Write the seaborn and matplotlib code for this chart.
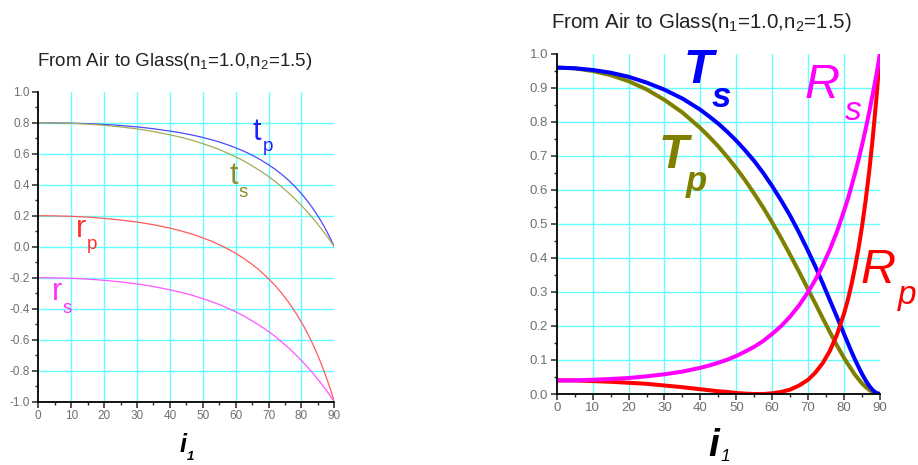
import numpy as np
import pandas as pd
import matplotlib
matplotlib.use("Agg")
import matplotlib.pyplot as plt
import seaborn as sns
from matplotlib.ticker import MultipleLocator, FormatStrFormatter

# angle of incidence (deg) and values
angles = [0, 5, 10, 15, 20, 25, 30, 35, 40, 42.5, 45, 47.5, 50, 52.5, 55, 57.5,
          60, 62.5, 65, 67.5, 70, 72, 74, 76, 78, 80, 81, 82, 83, 84, 85, 86,
          87, 88, 89, 90]

# left panel: amplitude coefficients
r_s = [-0.200, -0.201, -0.204, -0.209, -0.217, -0.227, -0.240, -0.257, -0.278,
       -0.290, -0.303, -0.318, -0.335, -0.353, -0.373, -0.396, -0.420, -0.447,
       -0.478, -0.511, -0.547, -0.579, -0.614, -0.651, -0.691, -0.734, -0.757,
       -0.780, -0.804, -0.830, -0.856, -0.883, -0.911, -0.939, -0.969, -1.000]
r_p = [0.200, 0.199, 0.196, 0.191, 0.183, 0.172, 0.159, 0.142, 0.120,
       0.107, 0.092, 0.076, 0.057, 0.037, 0.013, -0.013, -0.042, -0.076,
       -0.114, -0.157, -0.206, -0.250, -0.300, -0.355, -0.417, -0.487, -0.525,
       -0.565, -0.608, -0.654, -0.702, -0.754, -0.810, -0.869, -0.932, -1.000]
t_s = [0.800, 0.799, 0.796, 0.791, 0.783, 0.773, 0.760, 0.743, 0.722,
       0.710, 0.697, 0.682, 0.665, 0.647, 0.627, 0.604, 0.580, 0.553,
       0.522, 0.489, 0.453, 0.421, 0.386, 0.349, 0.309, 0.266, 0.243,
       0.220, 0.196, 0.170, 0.144, 0.117, 0.089, 0.061, 0.031, 0.000]
t_p = [0.800, 0.799, 0.797, 0.794, 0.789, 0.782, 0.773, 0.761, 0.746,
       0.738, 0.728, 0.717, 0.705, 0.691, 0.676, 0.658, 0.638, 0.616,
       0.591, 0.562, 0.529, 0.500, 0.467, 0.430, 0.389, 0.342, 0.317,
       0.290, 0.261, 0.231, 0.198, 0.164, 0.127, 0.087, 0.045, 0.000]

# right panel: energy coefficients
R_s = [0.040, 0.040, 0.042, 0.044, 0.047, 0.052, 0.058, 0.066, 0.077,
       0.084, 0.092, 0.101, 0.112, 0.125, 0.139, 0.156, 0.177, 0.200,
       0.228, 0.261, 0.300, 0.336, 0.377, 0.424, 0.477, 0.539, 0.572,
       0.609, 0.647, 0.688, 0.732, 0.779, 0.829, 0.883, 0.939, 1.000]
R_p = [0.040, 0.040, 0.038, 0.036, 0.033, 0.030, 0.025, 0.020, 0.014,
       0.011, 0.008, 0.006, 0.003, 0.001, 0.000, 0.000, 0.002, 0.006,
       0.013, 0.025, 0.042, 0.063, 0.090, 0.126, 0.174, 0.237, 0.275,
       0.319, 0.370, 0.427, 0.493, 0.569, 0.655, 0.755, 0.869, 1.000]
T_s = [0.960, 0.958, 0.953, 0.945, 0.933, 0.916, 0.895, 0.869, 0.836,
       0.816, 0.795, 0.771, 0.745, 0.716, 0.685, 0.650, 0.611, 0.569,
       0.524, 0.474, 0.420, 0.375, 0.327, 0.277, 0.227, 0.176, 0.151,
       0.126, 0.102, 0.080, 0.059, 0.040, 0.024, 0.011, 0.003, 0.000]
T_p = [0.960, 0.958, 0.950, 0.938, 0.920, 0.896, 0.865, 0.828, 0.782,
       0.756, 0.728, 0.697, 0.664, 0.628, 0.589, 0.548, 0.504, 0.458,
       0.409, 0.359, 0.307, 0.266, 0.224, 0.183, 0.143, 0.106, 0.089,
       0.073, 0.057, 0.044, 0.031, 0.021, 0.012, 0.005, 0.001, 0.000]

title = "From Air to Glass(n$_1$=1.0,n$_2$=1.5)"

sns.set_style("ticks")
plt.rcParams["font.family"] = ["Liberation Sans", "DejaVu Sans"]
plt.rcParams["mathtext.default"] = "regular"

W, H = 918, 465
fig = plt.figure(figsize=(W / 100, H / 100), dpi=100)
fig.patch.set_facecolor("white")

GRID = "#66FFFF"
TICK_GRAY = "#707070"


def px(x, y):
    return x / W, 1 - y / H


def style_axes(ax, ymin, ymax, ymaj, ymin_step, tick_size, y_grid):
    ax.set_xlim(0, 90)
    ax.set_ylim(ymin, ymax)
    ax.xaxis.set_major_locator(MultipleLocator(10))
    ax.xaxis.set_minor_locator(MultipleLocator(5))
    ax.yaxis.set_major_locator(MultipleLocator(ymaj))
    ax.yaxis.set_minor_locator(MultipleLocator(ymin_step))
    ax.yaxis.set_major_formatter(FormatStrFormatter("%.1f"))
    ax.tick_params(which="major", direction="out", length=4, width=1.1,
                   labelsize=tick_size, labelcolor=TICK_GRAY, pad=2)
    ax.tick_params(which="minor", direction="out", length=2.5, width=1.0)
    for side in ["top", "right"]:
        ax.spines[side].set_visible(False)
    for side in ["left", "bottom"]:
        ax.spines[side].set_linewidth(1.3)
        ax.spines[side].set_color("black")
    for v in range(10, 90, 10):
        ax.axvline(v, color=GRID, lw=1.0, zorder=0)
    for v in y_grid:
        ax.axhline(v, color=GRID, lw=1.0, zorder=0)
    ax.set_xlabel("")
    ax.set_ylabel("")


def label(x, y, s, color, size, va="baseline", **kw):
    fig.text(*px(x, y), s, color=color, fontsize=size, ha="left", va=va, **kw)


# ---- left panel ----
ax1 = fig.add_axes([38.3 / W, 1 - 401.7 / H, 296 / W, 310 / H])
left = [("t_p", t_p, "#4A4AFF"), ("t_s", t_s, "#A8A85A"),
        ("r_p", r_p, "#FF5A5A"), ("r_s", r_s, "#FF55FF")]
for name, vals, col in left:
    df = pd.DataFrame({"angle": angles, "value": vals})
    sns.lineplot(data=df, x="angle", y="value", ax=ax1, color=col, lw=0.9)
style_axes(ax1, -1.0, 1.0, 0.2, 0.1, 8.5,
           [0.8, 0.6, 0.4, 0.2, 0.0, -0.2, -0.4, -0.6, -0.8])

# ---- right panel ----
ax2 = fig.add_axes([556.7 / W, 1 - 394 / H, 323.3 / W, 340 / H])
right = [("T_p", T_p, "#808000"), ("T_s", T_s, "#0000FF"),
         ("R_p", R_p, "#FF0000"), ("R_s", R_s, "#FF00FF")]
for name, vals, col in right:
    df = pd.DataFrame({"angle": angles, "value": vals})
    sns.lineplot(data=df, x="angle", y="value", ax=ax2, color=col, lw=2.9)
style_axes(ax2, 0.0, 1.0, 0.1, 0.05, 9.5,
           [0.1, 0.2, 0.3, 0.4, 0.5, 0.6, 0.7, 0.8, 0.9])

# titles
fig.text(*px(175, 61), title, ha="center", va="center", fontsize=13.5, color="#222222")
fig.text(*px(701, 23), title, ha="center", va="center", fontsize=14.8, color="#222222")

# left curve labels
label(252, 140, "t", "#2020FF", 22)
label(263, 151, "p", "#2020FF", 13.5)
label(229, 184, "t", "#8C8C2A", 22)
label(239, 197, "s", "#8C8C2A", 13.5)
label(76, 237, "r", "#FF3030", 22)
label(87, 249, "p", "#FF3030", 13.5)
label(52, 300, "r", "#FF30FF", 22)
label(63, 313, "s", "#FF30FF", 13.5)

# right curve labels
bi = dict(fontweight="bold", style="italic")
label(684, 83, "T", "#0000FF", 35, **bi)
label(712, 107, "s", "#0000FF", 25, **bi)
label(659, 168, "T", "#808000", 35, **bi)
label(686, 191, "p", "#808000", 25, **bi)
label(805, 98, "R", "#FF00FF", 35, style="italic")
label(845, 120, "s", "#FF00FF", 24, style="italic")
label(860, 283, "R", "#FF0000", 35, style="italic")
label(898, 304, "p", "#FF0000", 24, style="italic")

# x axis labels i_1
label(180, 452, "i", "black", 18, **bi)
label(187, 460, "1", "black", 9.5, **bi)
label(708, 464, "i", "black", 28, va="bottom", **bi)
label(721, 464, "1", "black", 12.5, va="bottom", style="italic")

fig.savefig("out.png", dpi=100, facecolor="white")
